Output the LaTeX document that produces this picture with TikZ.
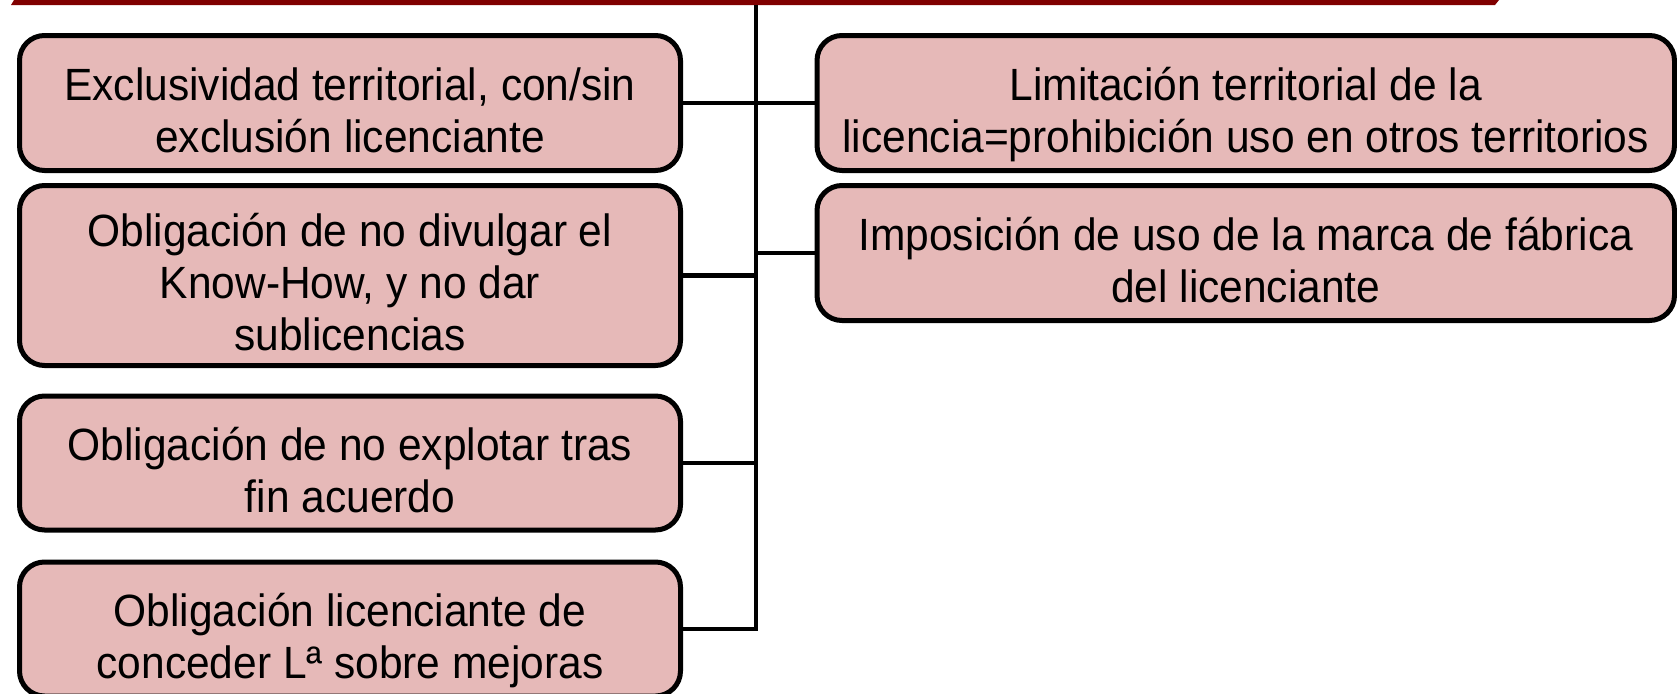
\documentclass[tikz,border=0pt]{standalone}
\usepackage{fontspec}
\setmainfont{Liberation Sans}[FakeStretch=0.94]
\usepackage{tikz}

\definecolor{boxfill}{RGB}{230,185,184}
\definecolor{barred}{RGB}{128,0,0}

% text of a clause, set a little below the box centre
\newcommand{\clausetext}[1]{\raisebox{-9.5pt}[\height][\depth]{\begin{tabular}{@{}c@{}}#1\end{tabular}}}

\begin{document}
\begin{tikzpicture}[x=0.75pt,y=0.75pt,yscale=-1,xscale=1,
  clause/.style={draw=black, line width=3.75pt, fill=boxfill, rounded corners=18.75pt,
    inner sep=0pt, font=\fontsize{33.9pt}{39pt}\selectfont},
  leftclause/.style={clause, minimum width=495.75pt},
  rightclause/.style={clause, minimum width=643.1pt},
  link/.style={draw=black, line width=3.4pt}]
\useasboundingbox (0,0) rectangle (1677,693);

%Shape: title bar (bottom edge only)
\fill [barred] (14,0) -- (1499,0) -- (1495,5) -- (11,5) -- cycle ;

%spine
\coordinate (spinetop) at (756,5);

% Left column
\node [leftclause, minimum height=101.25pt] (excl) at (350,103) {\clausetext{Exclusividad territorial, con/sin\\exclusión licenciante}};
\node [leftclause, minimum height=135pt] (divul) at (350,275.5) {\clausetext{Obligación de no divulgar el\\Know-How, y no dar\\sublicencias}};
\node [leftclause, minimum height=100.5pt] (explot) at (350,463) {\clausetext{Obligación de no explotar tras\\fin acuerdo}};
\node [leftclause, minimum height=100.5pt] (mejoras) at (350,629) {\clausetext{Obligación licenciante de\\conceder Lª sobre mejoras}};

% Right column
\node [rightclause, minimum height=101.25pt] (limit) at (1245.75,103) {\clausetext{Limitación territorial de la\\licencia=prohibición uso en otros territorios}};
\node [rightclause, minimum height=101.25pt] (marca) at (1245.75,253) {\clausetext{Imposición de uso de la marca de fábrica\\del licenciante}};

% Connectors
\draw [link] (mejoras.east) -| (spinetop);
\draw [link] (excl.east) -- (excl.east -| spinetop);
\draw [link] (divul.east) -- (divul.east -| spinetop);
\draw [link] (explot.east) -- (explot.east -| spinetop);
\draw [link] (limit.west) -- (limit.west -| spinetop);
\draw [link] (marca.west) -- (marca.west -| spinetop);

\end{tikzpicture}
\end{document}
